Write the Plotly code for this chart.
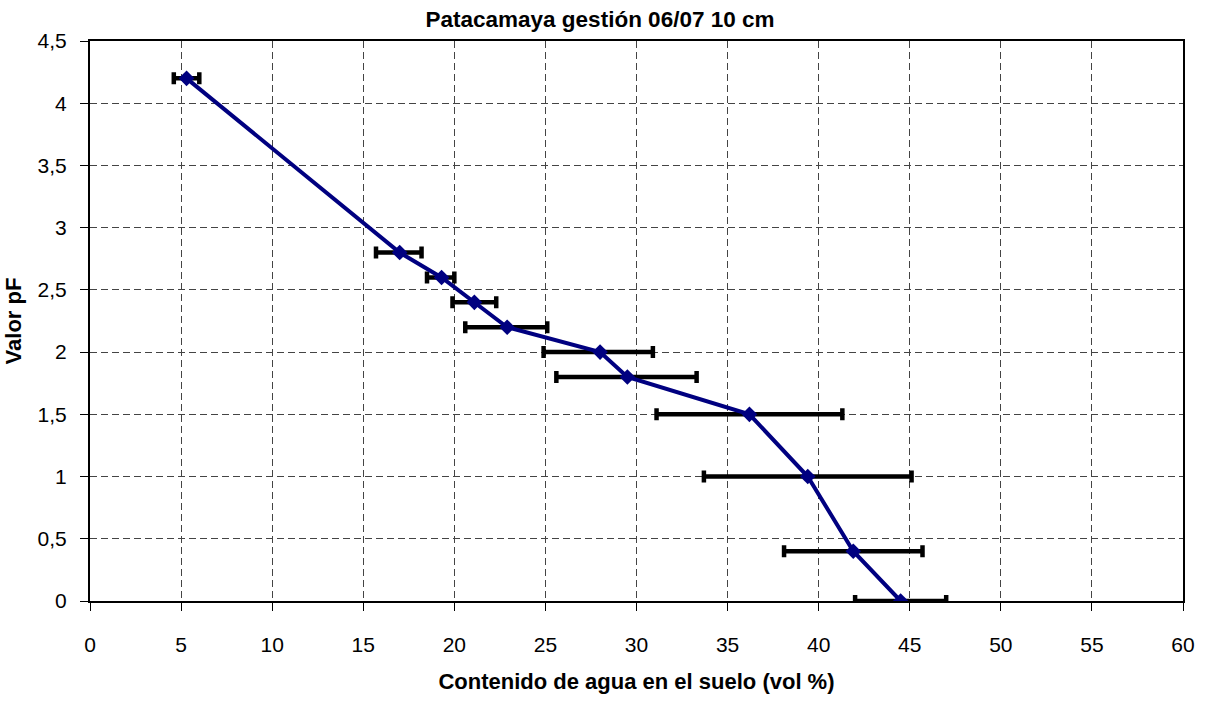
import plotly.graph_objects as go

pf = [4.2, 2.8, 2.6, 2.4, 2.2, 2.0, 1.8, 1.5, 1.0, 0.4, 0.0]
agua = [5.3, 17.0, 19.3, 21.1, 22.9, 28.0, 29.5, 36.2, 39.4, 41.9, 44.5]
err_lo = [4.6, 15.7, 18.5, 19.9, 20.6, 24.9, 25.6, 31.1, 33.7, 38.1, 42.0]
err_hi = [6.0, 18.2, 20.0, 22.3, 25.1, 30.9, 33.3, 41.3, 45.1, 45.7, 47.0]

x_ticks = [0, 5, 10, 15, 20, 25, 30, 35, 40, 45, 50, 55, 60]
y_ticks = [0, 0.5, 1, 1.5, 2, 2.5, 3, 3.5, 4, 4.5]
y_ticktext = ["0", "0,5", "1", "1,5", "2", "2,5", "3", "3,5", "4", "4,5"]

plus = [h - a for h, a in zip(err_hi, agua)]
minus = [a - l for a, l in zip(agua, err_lo)]

fig = go.Figure()
fig.add_trace(go.Scatter(
    x=agua, y=pf, mode="lines+markers",
    line=dict(color="#000080", width=4),
    marker=dict(symbol="diamond", size=12, color="#000080"),
    error_x=dict(type="data", symmetric=False, array=plus, arrayminus=minus,
                 color="black", thickness=4.5, width=6),
    showlegend=False,
))

fig.update_layout(
    width=1208, height=702,
    margin=dict(l=87, r=25, t=41, b=89),
    paper_bgcolor="white", plot_bgcolor="white",
    font=dict(family="Liberation Sans, Arial, sans-serif", color="black", size=21),
    title=dict(text="<b>Patacamaya gestión 06/07 10 cm</b>", x=0.4967, xanchor="center",
               y=1 - 19 / 702, yanchor="middle", font=dict(size=22.5)),
)
grid = dict(showgrid=True, gridcolor="#444444", griddash="7px,4px", gridwidth=1)
fig.update_xaxes(
    range=[0, 60], tickvals=x_ticks, ticktext=[str(v) for v in x_ticks],
    showline=True, linecolor="black", linewidth=2, mirror=True,
    ticks="outside", ticklen=8, tickcolor="black", ticklabelstandoff=16,
    zeroline=False, **grid,
    title=dict(text="<b>Contenido de agua en el suelo (vol %)</b>", font=dict(size=22), standoff=18),
)
fig.update_yaxes(
    range=[0, 4.5], tickvals=y_ticks, ticktext=y_ticktext,
    showline=True, linecolor="black", linewidth=2, mirror=True,
    ticks="outside", ticklen=8, tickcolor="black", ticklabelstandoff=9,
    zeroline=False, **grid,
    title=dict(text="<b>Valor pF</b>", font=dict(size=22), standoff=10),
)

fig.write_html("out.html")
